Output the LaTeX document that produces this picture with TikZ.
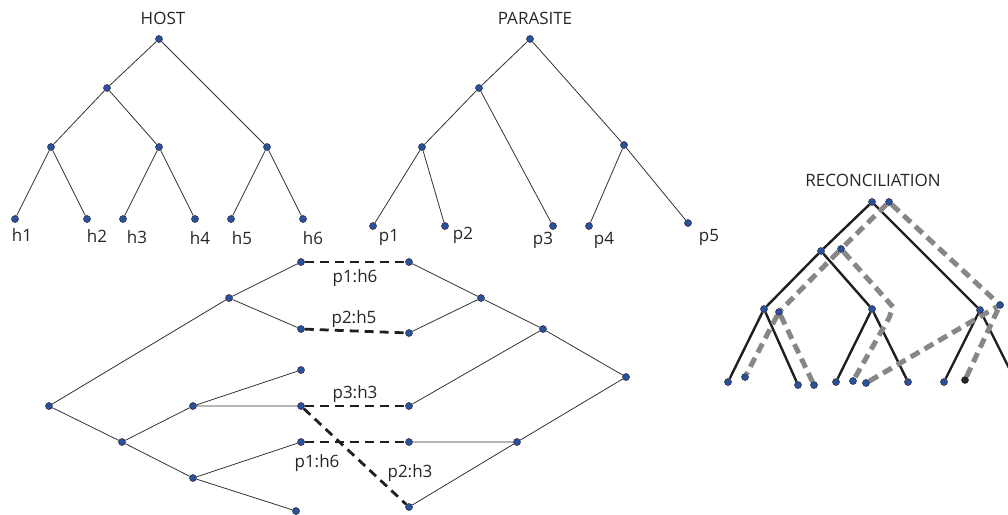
\documentclass[tikz,border=0pt]{standalone}
\usepackage{fontspec}
\setmainfont{Open Sans}
\definecolor{dotblue}{RGB}{44,80,160}
\definecolor{pgray}{RGB}{135,135,135}
\pgfdeclarelayer{bg}
\pgfsetlayers{bg,main}
\begin{document}
\begin{tikzpicture}[x=1pt,y={(0pt,-1pt)},
  dot/.style={circle,fill=dotblue,draw=black!85,line width=0.5pt,inner sep=0pt,minimum size=7pt},
  bdot/.style={dot,fill=black!85},
  thinedge/.style={draw=black!80,line width=0.8pt},
  assoc/.style={draw=black!88,line width=2.8pt,dash pattern=on 9pt off 6pt},
  hostedge/.style={draw=black!88,line width=2.4pt},
  paraedge/.style={draw=pgray,line width=5pt,dash pattern=on 10pt off 6pt},
  lab/.style={font=\fontsize{17}{20}\selectfont,anchor=base,inner sep=0pt,text=black!85},
  title/.style={font=\fontsize{17}{20}\selectfont,anchor=base,inner sep=0pt,text=black!85},
]
\useasboundingbox (0,0) rectangle (1008,514);
\begin{scope}
\clip (0,0) rectangle (1008,514);

% ---------------- HOST tree ----------------
\node[title] (thost) at (163,24) {HOST};
\node[dot] (hr) at (159,39) {};
\node[dot] (ha) at (107,88) {};
\node[dot] (hb) at (51,147) {};
\node[dot] (hc) at (159,147) {};
\node[dot] (hd) at (267,147) {};
\node[dot] (h1) at (15,219) {};
\node[dot] (h2) at (87,219) {};
\node[dot] (h3) at (123,219) {};
\node[dot] (h4) at (195,219) {};
\node[dot] (h5) at (231,219) {};
\node[dot] (h6) at (303,219) {};
\node[lab] (lh1) at (22,241) {h1};
\node[lab] (lh2) at (97,242) {h2};
\node[lab] (lh3) at (137,243) {h3};
\node[lab] (lh4) at (200,244) {h4};
\node[lab] (lh5) at (242,244) {h5};
\node[lab] (lh6) at (313,244) {h6};

% ---------------- PARASITE tree ----------------
\node[title] (tpara) at (535,24) {PARASITE};
\node[dot] (pr) at (530,39) {};
\node[dot] (pa) at (479,88) {};
\node[dot] (pb) at (422,147) {};
\node[dot] (pc) at (624,145) {};
\node[dot] (p1) at (373,226) {};
\node[dot] (p2) at (445,226) {};
\node[dot] (p3) at (553,226) {};
\node[dot] (p4) at (589,226) {};
\node[dot] (p5) at (688,223) {};
\node[lab] (lp1) at (389,241) {p1};
\node[lab] (lp2) at (463,239) {p2};
\node[lab] (lp3) at (543,244) {p3};
\node[lab] (lp4) at (604,244) {p4};
\node[lab] (lp5) at (709,241) {p5};

% ---------------- bottom: left tree ----------------
\node[dot] (lr) at (49,406) {};
\node[dot] (la) at (229,298) {};
\node[dot] (la1) at (301,262) {};
\node[dot] (la2) at (301,329) {};
\node[dot] (lb) at (122,442) {};
\node[dot] (lc) at (193,406) {};
\node[dot] (ld) at (193,478) {};
\node[dot] (lc1) at (301,370) {};
\node[dot] (lc2) at (301,406) {};
\node[dot] (ld1) at (301,442) {};
\node[dot] (ld2) at (296,511) {};

% ---------------- bottom: right tree ----------------
\node[dot] (r1) at (409,262) {};
\node[dot] (r2) at (409,333) {};
\node[dot] (r3) at (409,406) {};
\node[dot] (r4) at (409,442) {};
\node[dot] (r5) at (409,507) {};
\node[dot] (re) at (481,298) {};
\node[dot] (rf) at (543,329) {};
\node[dot] (rg) at (517,442) {};
\node[dot] (rr) at (626,377) {};

\node[lab] (a1) at (355,282) {p1:h6};
\node[lab] (a2) at (354,323) {p2:h5};
\node[lab] (a3) at (355,398) {p3:h3};
\node[lab] (a4) at (317,467) {p1:h6};
\node[lab] (a5) at (410,477) {p2:h3};

% ---------------- RECONCILIATION ----------------
\node[title] (trec) at (873,186) {RECONCILIATION};
\node[dot] (xr) at (872,202) {};
\node[dot] (xa) at (821,251) {};
\node[dot] (xb) at (764,309) {};
\node[dot] (xc) at (872,309) {};
\node[dot] (xd) at (980,310) {};
\node[dot] (x1) at (728,382) {};
\node[dot] (x2) at (798,385) {};
\node[dot] (x3) at (836,382) {};
\node[dot] (x4) at (908,382) {};
\node[dot] (x5) at (944,382) {};
\coordinate (x6) at (1016,382);

\node[dot] (yr) at (889,202) {};
\node[dot] (ya) at (841,249) {};
\node[dot] (yb) at (779,312) {};
\node[dot] (yc) at (1000,305) {};
\node[dot] (y1) at (745,377) {};
\node[dot] (y2) at (814,385) {};
\node[dot] (y3) at (853,381) {};
\node[dot] (y4) at (866,383) {};
\node[bdot] (y5) at (965,380) {};
\coordinate (ybendA) at (893,307);
\coordinate (ybendB) at (889,318);

\begin{pgfonlayer}{bg}
% host tree
\draw[thinedge] (hr) -- (ha) (hr) -- (hd) (ha) -- (hb) (ha) -- (hc)
  (hb) -- (h1) (hb) -- (h2) (hc) -- (h3) (hc) -- (h4) (hd) -- (h5) (hd) -- (h6);
% parasite tree
\draw[thinedge] (pr) -- (pa) (pr) -- (pc) (pa) -- (pb) (pa) -- (p3)
  (pb) -- (p1) (pb) -- (p2) (pc) -- (p4) (pc) -- (p5);
% bottom left tree
\draw[thinedge] (lr) -- (la) (lr) -- (lb) (la) -- (la1) (la) -- (la2)
  (lb) -- (lc) (lb) -- (ld) (lc) -- (lc1) (lc) -- (lc2) (ld) -- (ld1) (ld) -- (ld2);
% bottom right tree
\draw[thinedge] (r1) -- (re) (r2) -- (re) (re) -- (rf) (r3) -- (rf) (rf) -- (rr)
  (r4) -- (rg) (rg) -- (r5) (rg) -- (rr);
% associations
\draw[assoc] (la1) -- (r1);
\draw[assoc] (la2) -- (r2);
\draw[assoc] (lc2) -- (r3);
\draw[assoc] (ld1) -- (r4);
\draw[assoc] (lc2) -- (r5);
% reconciliation host
\draw[hostedge] (xr) -- (xa) (xr) -- (xd) (xa) -- (xb) (xa) -- (xc)
  (xb) -- (x1) (xb) -- (x2) (xc) -- (x3) (xc) -- (x4) (xd) -- (x5) (xd) -- (x6);
% reconciliation parasite
\draw[paraedge] (yr) -- (ya) -- (yb);
\draw[paraedge] (yb) -- (y1);
\draw[paraedge] (yb) -- (y2);
\draw[paraedge] (ya) -- (ybendA) -- (ybendB) -- (y3);
\draw[paraedge] (yr) -- (yc);
\draw[paraedge] (y4) -- (yc);
\draw[paraedge] (y5) -- (yc);
\end{pgfonlayer}
\end{scope}
\end{tikzpicture}
\end{document}
